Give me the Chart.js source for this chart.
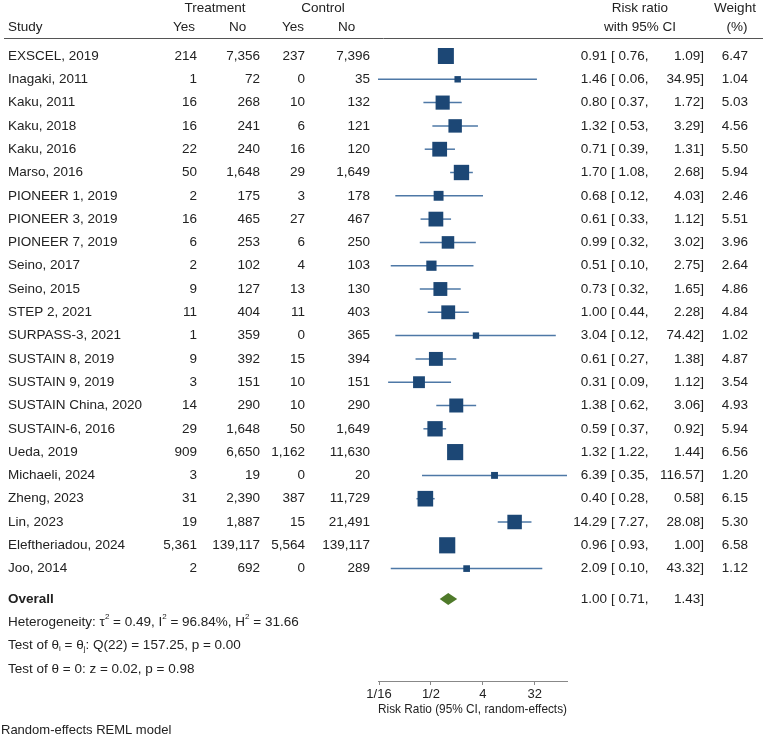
<!DOCTYPE html>
<html>
<head>
<meta charset="utf-8">
<script src="https://cdn.jsdelivr.net/npm/chart.js@4.4.1/dist/chart.umd.min.js"></script>
<style>
  html, body { margin: 0; padding: 0; background: #fff; }
</style>
</head>
<body>
<canvas id="forest" width="767" height="737"></canvas>
<script>
const studies = ["EXSCEL, 2019", "Inagaki, 2011", "Kaku, 2011", "Kaku, 2018", "Kaku, 2016", "Marso, 2016",
  "PIONEER 1, 2019", "PIONEER 3, 2019", "PIONEER 7, 2019", "Seino, 2017", "Seino, 2015", "STEP 2, 2021",
  "SURPASS-3, 2021", "SUSTAIN 8, 2019", "SUSTAIN 9, 2019", "SUSTAIN China, 2020", "SUSTAIN-6, 2016",
  "Ueda, 2019", "Michaeli, 2024", "Zheng, 2023", "Lin, 2023", "Eleftheriadou, 2024", "Joo, 2014"];
const treatYes = [214, 1, 16, 16, 22, 50, 2, 16, 6, 2, 9, 11, 1, 9, 3, 14, 29, 909, 3, 31, 19, 5361, 2];
const treatNo = [7356, 72, 268, 241, 240, 1648, 175, 465, 253, 102, 127, 404, 359, 392, 151, 290, 1648, 6650, 19, 2390, 1887, 139117, 692];
const ctrlYes = [237, 0, 10, 6, 16, 29, 3, 27, 6, 4, 13, 11, 0, 15, 10, 10, 50, 1162, 0, 387, 15, 5564, 0];
const ctrlNo = [7396, 35, 132, 121, 120, 1649, 178, 467, 250, 103, 130, 403, 365, 394, 151, 290, 1649, 11630, 20, 11729, 21491, 139117, 289];
const riskRatio = [0.91, 1.46, 0.80, 1.32, 0.71, 1.70, 0.68, 0.61, 0.99, 0.51, 0.73, 1.00, 3.04, 0.61, 0.31, 1.38, 0.59, 1.32, 6.39, 0.40, 14.29, 0.96, 2.09];
const ciLow = [0.76, 0.06, 0.37, 0.53, 0.39, 1.08, 0.12, 0.33, 0.32, 0.10, 0.32, 0.44, 0.12, 0.27, 0.09, 0.62, 0.37, 1.22, 0.35, 0.28, 7.27, 0.93, 0.10];
const ciHigh = [1.09, 34.95, 1.72, 3.29, 1.31, 2.68, 4.03, 1.12, 3.02, 2.75, 1.65, 2.28, 74.42, 1.38, 1.12, 3.06, 0.92, 1.44, 116.57, 0.58, 28.08, 1.00, 43.32];
const weights = [6.47, 1.04, 5.03, 4.56, 5.50, 5.94, 2.46, 5.51, 3.96, 2.64, 4.86, 4.84, 1.02, 4.87, 3.54, 4.93, 5.94, 6.56, 1.20, 6.15, 5.30, 6.58, 1.12];
const overallRR = 1.00, overallLow = 0.71, overallHigh = 1.43;
const tickValues = [1 / 16, 1 / 2, 4, 32];
const tickLabels = ["1/16", "1/2", "4", "32"];

// layout (pixels)
const areaTop = 40, areaBottom = 681, firstRow = 56, rowStep = 23.3;
const yMin = (areaTop - firstRow) / rowStep;
const yMax = (areaBottom - firstRow) / rowStep;
const overallRow = 23.3;
const FONT = "'Liberation Sans', Arial, sans-serif";
const TXT = "#222";

const fmt = n => n.toLocaleString("en-US");

const datasets = [{
  type: "scatter",
  data: riskRatio.map((v, i) => ({ x: v, y: i })),
  pointStyle: "rect",
  pointRadius: c => 6.3 * Math.sqrt(weights[c.dataIndex]) / Math.SQRT2,
  backgroundColor: "#1c4775",
  borderWidth: 0,
  order: 0,
  clip: false
}];
studies.forEach((s, i) => {
  datasets.push({
    type: "line",
    data: [{ x: ciLow[i], y: i }, { x: ciHigh[i], y: i }],
    borderColor: "#4e78a6",
    borderWidth: 1.5,
    pointRadius: 0,
    order: 1,
    clip: false
  });
});

function drawRuns(ctx, x, y, runs) {
  runs.forEach(([t, kind]) => {
    let dy = 0;
    if (kind) {
      ctx.font = "8px " + FONT;
      dy = kind === "sup" ? -5 : 3;
    } else {
      ctx.font = "13.5px " + FONT;
    }
    ctx.fillText(t, x, y + dy);
    x += ctx.measureText(t).width;
  });
}

const tablePlugin = {
  id: "table",
  afterDraw(chart) {
    const ctx = chart.ctx;
    const ys = chart.scales.y, xs = chart.scales.x;
    ctx.save();
    ctx.fillStyle = TXT;
    ctx.textBaseline = "middle";
    ctx.font = "13.5px " + FONT;

    // header
    ctx.textAlign = "center";
    ctx.fillText("Treatment", 215, 8);
    ctx.fillText("Control", 323, 8);
    ctx.fillText("Risk ratio", 640, 8);
    ctx.fillText("with 95% CI", 640, 27);
    ctx.fillText("Weight", 735, 8);
    ctx.fillText("(%)", 737, 27);
    ctx.textAlign = "left";
    ctx.fillText("Study", 8, 27);
    ctx.fillText("Yes", 173, 27);
    ctx.fillText("No", 229, 27);
    ctx.fillText("Yes", 282, 27);
    ctx.fillText("No", 338, 27);
    ctx.strokeStyle = "#555";
    ctx.lineWidth = 1;
    ctx.beginPath();
    ctx.moveTo(4, 38.5);
    ctx.lineTo(763, 38.5);
    ctx.stroke();

    // study rows
    studies.forEach((s, i) => {
      const y = ys.getPixelForValue(i);
      ctx.textAlign = "left";
      ctx.fillText(s, 8, y);
      ctx.fillText("[ " + ciLow[i].toFixed(2) + ",", 611, y);
      ctx.textAlign = "right";
      ctx.fillText(fmt(treatYes[i]), 197, y);
      ctx.fillText(fmt(treatNo[i]), 260, y);
      ctx.fillText(fmt(ctrlYes[i]), 305, y);
      ctx.fillText(fmt(ctrlNo[i]), 370, y);
      ctx.fillText(riskRatio[i].toFixed(2), 607, y);
      ctx.fillText(ciHigh[i].toFixed(2) + "]", 704, y);
      ctx.fillText(weights[i].toFixed(2), 748, y);
    });

    // overall row
    const yo = ys.getPixelForValue(overallRow);
    ctx.textAlign = "left";
    ctx.font = "bold 13.5px " + FONT;
    ctx.fillText("Overall", 8, yo);
    ctx.font = "13.5px " + FONT;
    ctx.fillText("[ " + overallLow.toFixed(2) + ",", 611, yo);
    ctx.textAlign = "right";
    ctx.fillText(overallRR.toFixed(2), 607, yo);
    ctx.fillText(overallHigh.toFixed(2) + "]", 704, yo);

    // diamond
    const xl = xs.getPixelForValue(overallLow), xm = xs.getPixelForValue(overallRR), xh = xs.getPixelForValue(overallHigh);
    ctx.fillStyle = "#4f7a2a";
    ctx.beginPath();
    ctx.moveTo(xl, yo);
    ctx.lineTo(xm, yo - 6);
    ctx.lineTo(xh, yo);
    ctx.lineTo(xm, yo + 6);
    ctx.closePath();
    ctx.fill();

    // statistics
    ctx.fillStyle = TXT;
    ctx.textAlign = "left";
    drawRuns(ctx, 8, ys.getPixelForValue(overallRow + 1), [
      ["Heterogeneity: \u03c4"], ["2", "sup"], [" = 0.49, I"], ["2", "sup"], [" = 96.84%, H"], ["2", "sup"], [" = 31.66"]
    ]);
    drawRuns(ctx, 8, ys.getPixelForValue(overallRow + 2), [
      ["Test of \u03b8"], ["i", "sub"], [" = \u03b8"], ["j", "sub"], [": Q(22) = 157.25, p = 0.00"]
    ]);
    drawRuns(ctx, 8, ys.getPixelForValue(overallRow + 3), [
      ["Test of \u03b8 = 0: z = 0.02, p = 0.98"]
    ]);
    ctx.font = "13px " + FONT;
    ctx.fillText("Random-effects REML model", 1, 730);
    ctx.restore();
  }
};

new Chart(document.getElementById("forest"), {
  data: { datasets },
  options: {
    responsive: false,
    animation: false,
    events: [],
    layout: { padding: { left: 378, right: 200, top: areaTop, bottom: 737 - areaBottom - 36 } },
    plugins: { legend: { display: false }, tooltip: { enabled: false } },
    scales: {
      x: {
        type: "logarithmic",
        position: "bottom",
        min: 0.06,
        max: 116.57,
        afterBuildTicks: scale => { scale.ticks = tickValues.map(v => ({ value: v })); },
        afterFit: scale => { scale.height = 36; },
        ticks: {
          autoSkip: false,
          maxRotation: 0,
          padding: 2,
          color: TXT,
          font: { family: FONT, size: 13 },
          callback: (v, i) => tickLabels[i]
        },
        grid: { drawOnChartArea: false, drawTicks: true, tickLength: 4, color: "#888" },
        border: { display: true, color: "#888", width: 1 },
        title: {
          display: true,
          text: "Risk Ratio (95% CI, random-effects)",
          color: TXT,
          font: { family: FONT, size: 13 },
          padding: { top: 0, bottom: 0 }
        }
      },
      y: {
        type: "linear",
        min: yMin,
        max: yMax,
        reverse: true,
        display: false
      }
    }
  },
  plugins: [tablePlugin]
});
</script>
</body>
</html>
